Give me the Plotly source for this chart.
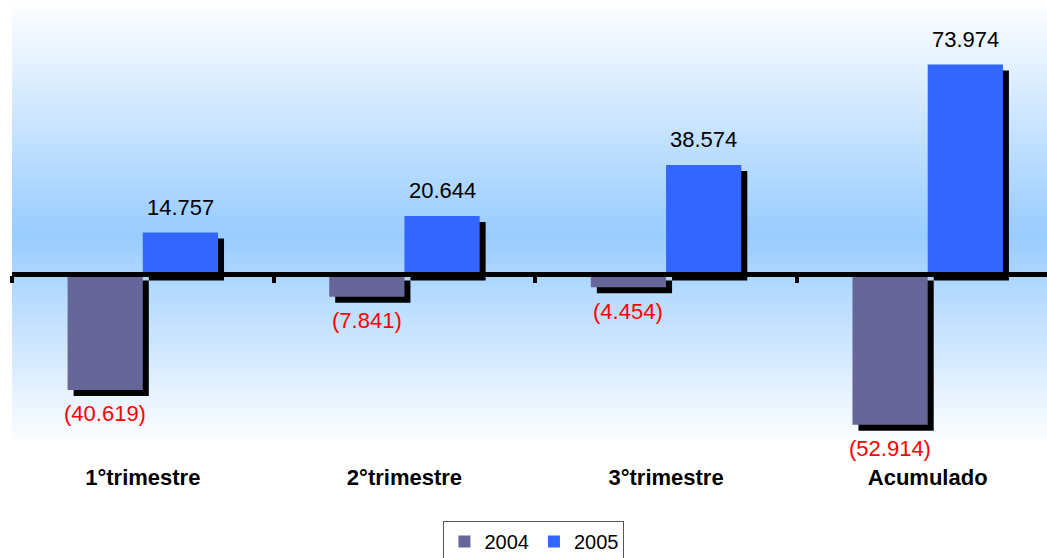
import plotly.graph_objects as go

# ---- data -------------------------------------------------------------
categories = ["1°trimestre", "2°trimestre", "3°trimestre", "Acumulado"]
series_names = ["2004", "2005"]
values_2004 = [-40619, -7841, -4454, -52914]
values_2005 = [14757, 20644, 38574, 73974]

# ---- styles / geometry ------------------------------------------------
series_colors = ["#666699", "#3366FF"]
FONT = "Liberation Sans, Arial, sans-serif"
W, H = 1047, 558
M_LEFT, M_BOTTOM = 12, 96
PLOT_W = W - M_LEFT
PLOT_H = H - M_BOTTOM
Y_RANGE = [-66000, 96650]
X_RANGE = [-0.5, 3.456]
BARGAP = 0.425
SHADOW_PX = 6

units_per_px_y = (Y_RANGE[1] - Y_RANGE[0]) / PLOT_H
units_per_px_x = (X_RANGE[1] - X_RANGE[0]) / PLOT_W
dy = SHADOW_PX * units_per_px_y
dx = SHADOW_PX * units_per_px_x


def fmt(v):
    s = f"{abs(v):,}".replace(",", ".")
    return f"({s})" if v < 0 else s


series_values = [values_2004, values_2005]

fig = go.Figure()

# drop shadows: same bars on axes shifted a few pixels right and down
for name, vals in zip(series_names, series_values):
    fig.add_trace(go.Bar(
        x=categories, y=vals, name=name + " shadow",
        marker=dict(color="black", line=dict(width=0)),
        showlegend=False, xaxis="x", yaxis="y", hoverinfo="skip",
    ))

# visible bars
for name, vals, col in zip(series_names, series_values, series_colors):
    fig.add_trace(go.Bar(
        x=categories, y=vals, name=name,
        marker=dict(color=col, line=dict(width=0)),
        xaxis="x2", yaxis="y2",
    ))

# carrier for the tick marks on the zero line
fig.add_trace(go.Scatter(x=[], y=[], xaxis="x3", yaxis="y2",
                         showlegend=False, hoverinfo="skip"))

# value labels
half = (1 - BARGAP) / 4
annotations = []
for s_idx, vals in enumerate(series_values):
    off = -half if s_idx == 0 else half
    for i, v in enumerate(vals):
        annotations.append(dict(
            x=i + off, y=v, xref="x2", yref="y2",
            text=fmt(v), showarrow=False,
            yanchor="middle", yshift=25 if v >= 0 else -24,
            font=dict(family=FONT, size=22,
                      color="black" if v >= 0 else "#FF0000"),
        ))

# background: vertical gradient white -> light blue -> white
shapes = []
top_c = (255, 255, 255)
mid_c = (153, 204, 255)
peak_px, end_px, step = 235, 445, 2
for y_px in range(0, end_px, step):
    yc = y_px + step / 2
    if yc <= peak_px:
        f = yc / peak_px
    else:
        f = max(0.0, (end_px - yc) / (end_px - peak_px))
    c = tuple(round(top_c[k] + (mid_c[k] - top_c[k]) * f) for k in range(3))
    shapes.append(dict(
        type="rect", xref="paper", yref="paper", x0=0, x1=1,
        y0=1 - (y_px + step + 0.5) / PLOT_H, y1=1 - y_px / PLOT_H,
        fillcolor=f"rgb{c}", line=dict(width=0), layer="below",
    ))

# zero line drawn over the bars
shapes.append(dict(type="line", xref="paper", yref="y2", x0=0, x1=1,
                   y0=0, y1=0, line=dict(color="black", width=5),
                   layer="above"))

zero_pos = (0 - Y_RANGE[0]) / (Y_RANGE[1] - Y_RANGE[0])

fig.update_layout(
    width=W, height=H,
    margin=dict(l=M_LEFT, r=0, t=0, b=M_BOTTOM, autoexpand=False),
    paper_bgcolor="white", plot_bgcolor="rgba(0,0,0,0)",
    barmode="group", bargap=BARGAP, bargroupgap=0,
    hovermode=False,
    shapes=shapes, annotations=annotations,
    xaxis=dict(range=[X_RANGE[0] - dx, X_RANGE[1] - dx], visible=False),
    yaxis=dict(range=[Y_RANGE[0] + dy, Y_RANGE[1] + dy], visible=False),
    xaxis2=dict(range=X_RANGE, overlaying="x", anchor="y2", side="bottom",
                type="category", showgrid=False, showline=False,
                zeroline=False, ticks="",
                tickfont=dict(family=FONT, size=22, color="black",
                              weight="bold")),
    yaxis2=dict(range=Y_RANGE, overlaying="y", visible=False),
    xaxis3=dict(range=X_RANGE, overlaying="x", anchor="free",
                position=zero_pos, type="linear",
                tickvals=[-0.5, 0.5, 1.5, 2.5, 3.5],
                ticks="outside", ticklen=7, tickwidth=4, tickcolor="black",
                showticklabels=False, showgrid=False, showline=False,
                zeroline=False),
    legend=dict(orientation="h", x=0.5043, xanchor="center",
                y=(PLOT_H - 521) / PLOT_H, yanchor="top",
                itemwidth=30,
                bordercolor="#555555", borderwidth=1, bgcolor="white",
                font=dict(family=FONT, size=20, color="black")),
)

fig.write_html("out.html")
